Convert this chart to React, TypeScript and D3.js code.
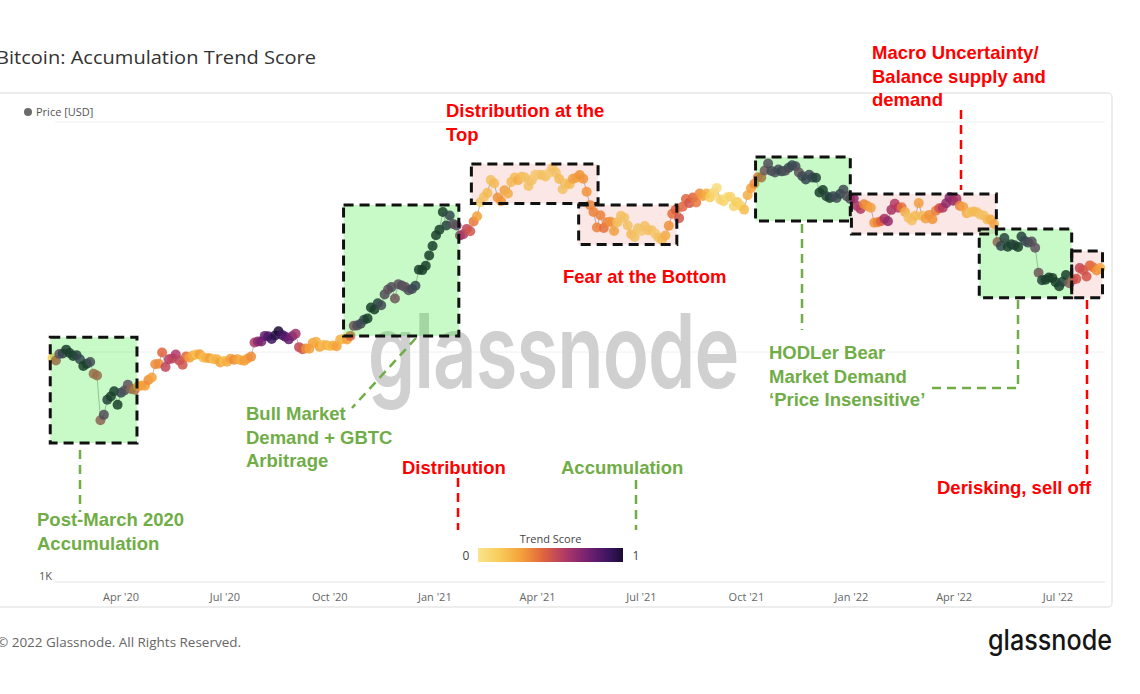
import React from "react";
import * as d3 from "d3";

// ---------- DATA ----------
const seriesStart = "2020-02-01";
const stepDays = 3;

// BTC price [USD], one sample every 3 days from 2020-02-01
const prices = [
  9390, 9180, 9800, 9850, 10240, 9900, 9600, 9690, 9300, 8700,
  8900, 9050, 8050, 7900, 5050, 5330, 6200, 6400, 6750, 5900,
  6650, 6800, 7200, 6900, 6850, 7100, 7150, 7130, 7550, 7750,
  8850, 8900, 9950, 8600, 9300, 9380, 9750, 9180, 8800, 9550,
  9450, 9650, 9750, 9780, 9460, 9420, 9400, 9300, 9300, 9000,
  9140, 9080, 9350, 9250, 9300, 9200, 9170, 9380, 9550, 11000,
  11100, 11100, 11750, 11700, 11400, 11800, 12300, 11870, 11650, 11350,
  11700, 12000, 10500, 10280, 10350, 10330, 10950, 11080, 10530, 10730,
  10700, 10620, 10680, 10600, 11300, 11420, 11330, 11750, 12990, 13030,
  13270, 13800, 14000, 15600, 15300, 16300, 15970, 17800, 18700, 19150,
  17100, 19700, 19450, 19150, 18550, 18800, 19400, 22800, 22700, 23700,
  26300, 28900, 32200, 34000, 40600, 35500, 39200, 36000, 35500, 32100,
  32500, 34300, 33500, 36900, 38900, 44800, 47200, 49200, 55900, 54100,
  47000, 45200, 50500, 48900, 54900, 57300, 55900, 57800, 57300, 52700,
  55900, 58900, 59000, 58800, 58000, 60000, 63300, 60300, 56500, 51000,
  54000, 53600, 56600, 57200, 58800, 56700, 49700, 43500, 40600, 34800,
  39300, 34600, 36700, 36800, 33600, 36700, 39100, 38300, 35500, 32500,
  31600, 34500, 33600, 35300, 33800, 33800, 32700, 31500, 30800, 32100,
  35400, 39900, 41500, 38200, 42800, 46300, 44400, 47000, 44700, 48900,
  47700, 48900, 47000, 49300, 51700, 46000, 45200, 47100, 47300, 43000,
  44900, 43200, 41600, 48000, 51500, 53900, 57500, 57400, 61500, 66000,
  61300, 60300, 62200, 61000, 61400, 63300, 64900, 64200, 60300, 58100,
  56300, 59000, 57300, 57200, 49400, 50600, 47600, 46700, 47600, 46700,
  48600, 50800, 47600, 46300, 46500, 43100, 41900, 43900, 43100, 42400,
  36500, 36700, 37000, 38000, 37000, 41500, 44100, 42400, 42600, 40600,
  38400, 37300, 39100, 44400, 39100, 38100, 39400, 37800, 41100, 42200,
  42400, 44300, 47100, 45500, 46400, 43200, 42700, 40100, 40500, 40800,
  40500, 39500, 39200, 37700, 37700, 36000, 30100, 28900, 31300, 28700,
  29400, 29100, 28600, 31800, 30400, 29900, 30200, 28400, 22100, 20500,
  20600, 21100, 21000, 20100, 19300, 20200, 21600, 19900, 20600, 20800,
  23200, 22700, 21300, 23800, 23300, 22600, 23200,
];

// Accumulation trend score (0..1), same samples
const scores = [
  0.15, 0.55, 0.75, 0.9, 1, 1, 1, 0.95, 0.9, 1,
  1, 0.85, 0.55, 0.55, 0.6, 0.8, 0.95, 1, 1, 1,
  0.9, 0.8, 0.75, 0.6, 0.5, 0.35, 0.3, 0.3, 0.35, 0.3,
  0.35, 0.35, 0.45, 0.55, 0.6, 0.55, 0.6, 0.55, 0.5, 0.45,
  0.3, 0.25, 0.2, 0.3, 0.2, 0.25, 0.3, 0.2, 0.25, 0.3,
  0.2, 0.25, 0.3, 0.35, 0.3, 0.25, 0.3, 0.3, 0.35, 0.6,
  0.7, 0.75, 0.8, 0.85, 0.9, 0.95, 1, 0.9, 0.85, 0.8,
  0.75, 0.65, 0.55, 0.5, 0.35, 0.3, 0.3, 0.25, 0.3, 0.2,
  0.25, 0.2, 0.25, 0.3, 0.25, 0.2, 0.3, 0.45, 0.7, 0.8,
  0.85, 0.9, 1, 1, 1, 0.95, 0.85, 0.8, 0.75, 0.8,
  0.7, 0.75, 0.8, 0.75, 0.8, 0.85, 0.9, 1, 1, 1,
  1, 1, 1, 1, 1, 0.95, 0.9, 0.8, 0.75, 0.7,
  0.6, 0.55, 0.5, 0.4, 0.3, 0.1, 0.1, 0.15, 0.1, 0.15,
  0.3, 0.3, 0.25, 0.2, 0.15, 0.15, 0.2, 0.15, 0.1, 0.1,
  0.1, 0.05, 0.05, 0.1, 0.1, 0.05, 0.1, 0.1, 0.15, 0.1,
  0.1, 0.15, 0.25, 0.25, 0.3, 0.3, 0.3, 0.35, 0.35, 0.35,
  0.35, 0.4, 0.35, 0.3, 0.25, 0.15, 0.1, 0.1, 0.1, 0.15,
  0.1, 0.1, 0.05, 0.1, 0.1, 0.1, 0.05, 0.1, 0.15, 0.2,
  0.3, 0.4, 0.45, 0.5, 0.45, 0.45, 0.5, 0.45, 0.4, 0.35,
  0.3, 0.25, 0.15, 0.1, 0.05, 0.1, 0.1, 0.05, 0.1, 0.1,
  0.15, 0.1, 0.2, 0.25, 0.3, 0.35, 0.4, 0.5, 0.7, 0.8,
  0.85, 0.8, 0.85, 0.9, 0.8, 0.85, 0.9, 0.85, 0.75, 0.85,
  0.9, 0.85, 0.9, 0.95, 1, 1, 0.95, 1, 0.9, 0.85,
  0.9, 0.85, 0.8, 0.8, 0.7, 0.65, 0.6, 0.35, 0.3, 0.25,
  0.3, 0.35, 0.45, 0.65, 0.7, 0.65, 0.6, 0.6, 0.4, 0.2,
  0.1, 0.1, 0.15, 0.25, 0.15, 0.25, 0.3, 0.3, 0.35, 0.5,
  0.6, 0.7, 0.75, 0.7, 0.65, 0.35, 0.25, 0.2, 0.1, 0.15,
  0.15, 0.1, 0.1, 0.15, 0.2, 0.25, 0.6, 0.9, 0.95, 1,
  1, 0.95, 1, 0.95, 0.9, 0.85, 0.8, 0.75, 0.7, 0.95,
  1, 1, 1, 1, 1, 0.95, 1, 0.65, 0.55, 0.5,
  0.55, 0.5, 0.5, 0.45, 0.4, 0.3, 0.25,
];

const xTickDates = [
  "2020-04-01", "2020-07-01", "2020-10-01", "2021-01-01", "2021-04-01",
  "2021-07-01", "2021-10-01", "2022-01-01", "2022-04-01", "2022-07-01",
];
const yGridValues = [1000, 10000, 100000];
const yLabelValues = [1000];

// Highlight boxes (date range, price range)
const boxStarts = ["2020-01-30", "2020-10-13", "2021-02-02", "2021-05-07", "2021-10-09", "2022-01-01", "2022-04-23", "2022-07-13"];
const boxEnds = ["2020-04-15", "2021-01-22", "2021-05-24", "2021-08-01", "2021-12-31", "2022-05-08", "2022-07-13", "2022-08-09"];
const boxHighs = [11600, 43600, 65700, 43600, 70400, 48600, 34300, 27500];
const boxLows = [4020, 11740, 44200, 29300, 37100, 32600, 17200, 17200];
const boxKinds = ["acc", "acc", "dist", "dist", "acc", "dist", "acc", "dist"];

// colour ramp of the trend score
const scoreStops = [0, 0.15, 0.3, 0.45, 0.6, 0.75, 0.9, 1];
const scoreColors = ["#f9e48e", "#f8cc58", "#f4a03a", "#e0643e", "#b03a68", "#762172", "#3c1560", "#1b0c32"];

// ---------- LAYOUT ----------
const GREEN = "#70ad47";
const RED = "#ff0000";
const ANNO_FONT = "'Liberation Sans', Arial, sans-serif";
const UI_FONT = "'Open Sans', 'Noto Sans', sans-serif";
const LINE_H = 23.5;

const annotations = [
  { lines: ["Post-March 2020", "Accumulation"], x: 37, y: 526, color: GREEN },
  { lines: ["Bull Market", "Demand + GBTC", "Arbitrage"], x: 246, y: 420, color: GREEN },
  { lines: ["Distribution at the", "Top"], x: 446, y: 117, color: RED },
  { lines: ["Fear at the Bottom"], x: 563, y: 283, color: RED },
  { lines: ["Macro Uncertainty/", "Balance supply and", "demand"], x: 872, y: 59, color: RED },
  { lines: ["HODLer Bear", "Market Demand", "\u2018Price Insensitive\u2019"], x: 769, y: 359, color: GREEN },
  { lines: ["Distribution"], x: 402, y: 474, color: RED },
  { lines: ["Accumulation"], x: 561, y: 474, color: GREEN },
  { lines: ["Derisking, sell off"], x: 937, y: 494, color: RED },
];

const leaders: { pts: [number, number][]; color: string }[] = [
  { pts: [[80, 450], [80, 512]], color: GREEN },
  { pts: [[416, 338], [352, 408]], color: GREEN },
  { pts: [[458, 478], [458, 530]], color: RED },
  { pts: [[636, 480], [636, 530]], color: GREEN },
  { pts: [[802, 224], [802, 330]], color: GREEN },
  { pts: [[1018, 300], [1018, 388], [928, 388]], color: GREEN },
  { pts: [[961, 110], [961, 190]], color: RED },
  { pts: [[1087, 300], [1087, 478]], color: RED },
];

const utc = (s: string) => new Date(s + "T00:00:00Z");

export default function App() {
  const W = 1140;
  const H = 694;
  const plotLeft = 55;
  const plotRight = 1105;

  const x = d3.scaleUtc().domain([utc("2020-04-01"), utc("2022-07-01")]).range([121, 1058]);
  const y = d3.scaleLog().domain([1000, 100000]).range([582, 122]);
  const color = d3.scaleLinear<string>().domain(scoreStops).range(scoreColors).interpolate(d3.interpolateRgb).clamp(true);

  const t0 = utc(seriesStart);
  const data = prices.map((p, i) => ({
    date: d3.utcDay.offset(t0, i * stepDays),
    price: p,
    score: scores[i] ?? 0.5,
  }));

  const line = d3
    .line<{ date: Date; price: number }>()
    .x((d) => x(d.date))
    .y((d) => y(d.price));

  const fmt = d3.utcFormat("%b '%y");

  const cbX0 = 478;
  const cbX1 = 623;
  const cb = d3.scaleLinear().domain([0, 1]).range([cbX0, cbX1]);

  const wmScaleY = 1.36;

  return (
    <svg
      width={W}
      height={H}
      viewBox={`0 0 ${W} ${H}`}
      style={{ position: "absolute", left: 0, top: 0, background: "#fff" }}
    >
      <defs>
        <linearGradient id="scoreGrad" x1="0" x2="1" y1="0" y2="0">
          {scoreStops.map((s, i) => (
            <stop key={i} offset={`${s * 100}%`} stopColor={scoreColors[i]} />
          ))}
        </linearGradient>
      </defs>
      <rect x={0} y={0} width={W} height={H} fill="#fff" />

      {/* title */}
      <text x={-4} y={64} fontFamily={UI_FONT} fontSize={19} fill="#333" textLength={320} lengthAdjust="spacingAndGlyphs">
        Bitcoin: Accumulation Trend Score
      </text>

      {/* frame */}
      <rect x={-10} y={93} width={1122} height={514} rx={4} fill="none" stroke="#e8e8e8" strokeWidth={1.5} />

      {/* legend */}
      <circle cx={28} cy={112} r={4} fill="#6b6b6b" />
      <text x={36} y={116} fontFamily={UI_FONT} fontSize={11} fill="#555">
        Price [USD]
      </text>

      {/* gridlines */}
      {yGridValues.map((v) => (
        <line key={v} x1={plotLeft} x2={plotRight} y1={y(v)} y2={y(v)} stroke={v === 1000 ? "#e2e2e2" : "#f0f0f0"} strokeWidth={1} />
      ))}
      {yLabelValues.map((v) => (
        <text key={v} x={52} y={y(v) - 2} textAnchor="end" fontFamily={UI_FONT} fontSize={11} fill="#555">
          {d3.format("~s")(v).replace("k", "K")}
        </text>
      ))}
      {xTickDates.map((s) => {
        const d = utc(s);
        return (
          <text key={s} x={x(d)} y={601} textAnchor="middle" fontFamily={UI_FONT} fontSize={11} fill="#666">
            {fmt(d)}
          </text>
        );
      })}

      {/* watermark */}
      <g transform={`scale(1, ${wmScaleY})`}>
        <text
          x={553}
          y={388 / wmScaleY}
          textAnchor="middle"
          fontFamily="Inter, 'Open Sans', sans-serif"
          fontSize={76}
          fontWeight={600}
          letterSpacing={-1}
          fill="#d0d0d0"
        >
          glassnode
        </text>
      </g>

      {/* price line + dots */}
      <path d={line(data) ?? ""} fill="none" stroke="#9a9a9a" strokeWidth={1} opacity={0.7} />
      <g>
        {data.map((d, i) => (
          <circle key={i} cx={x(d.date)} cy={y(d.price)} r={5} fill={color(d.score)} opacity={0.85} />
        ))}
      </g>

      {/* highlight boxes */}
      {boxStarts.map((s, i) => {
        const x0 = x(utc(s));
        const x1 = x(utc(boxEnds[i]));
        const y0 = y(boxHighs[i]);
        const y1 = y(boxLows[i]);
        const acc = boxKinds[i] === "acc";
        return (
          <rect
            key={"f" + i}
            x={x0}
            y={y0}
            width={x1 - x0}
            height={y1 - y0}
            fill={acc ? "rgb(25,235,25)" : "rgb(220,60,50)"}
            fillOpacity={acc ? 0.24 : 0.12}
            stroke="none"
          />
        );
      })}
      {boxStarts.map((s, i) => {
        const x0 = x(utc(s));
        const x1 = x(utc(boxEnds[i]));
        const y0 = y(boxHighs[i]);
        const y1 = y(boxLows[i]);
        return (
          <rect
            key={"b" + i}
            x={x0}
            y={y0}
            width={x1 - x0}
            height={y1 - y0}
            fill="none"
            stroke="#111"
            strokeWidth={3}
            strokeDasharray="10 6"
          />
        );
      })}

      {/* leader lines */}
      {leaders.map((l, i) => (
        <polyline
          key={i}
          points={l.pts.map((p) => p.join(",")).join(" ")}
          fill="none"
          stroke={l.color}
          strokeWidth={2.5}
          strokeDasharray="9 6"
        />
      ))}

      {/* annotations */}
      {annotations.map((a, i) => (
        <text key={i} fontFamily={ANNO_FONT} fontWeight="bold" fontSize={18.5} fill={a.color}>
          {a.lines.map((ln, j) => (
            <tspan key={j} x={a.x} y={a.y + j * LINE_H}>
              {ln}
            </tspan>
          ))}
        </text>
      ))}

      {/* colour bar */}
      <text x={(cbX0 + cbX1) / 2} y={543} textAnchor="middle" fontFamily={UI_FONT} fontSize={11} fill="#444">
        Trend Score
      </text>
      <rect x={cb(0)} y={548} width={cb(1) - cb(0)} height={14} fill="url(#scoreGrad)" />
      <text x={cb(0) - 12} y={560} textAnchor="middle" fontFamily={UI_FONT} fontSize={12} fill="#444">
        0
      </text>
      <text x={cb(1) + 13} y={560} textAnchor="middle" fontFamily={UI_FONT} fontSize={12} fill="#444">
        1
      </text>

      {/* footer */}
      <text x={-3} y={647} fontFamily={UI_FONT} fontSize={13} fill="#666" textLength={244} lengthAdjust="spacingAndGlyphs">
        © 2022 Glassnode. All Rights Reserved.
      </text>
      <text
        x={988}
        y={650}
        fontFamily="Inter, 'Open Sans', sans-serif"
        fontSize={28}
        fontWeight={500}
        fill="#151515"
        textLength={124}
        lengthAdjust="spacingAndGlyphs"
      >
        glassnode
      </text>
    </svg>
  );
}
